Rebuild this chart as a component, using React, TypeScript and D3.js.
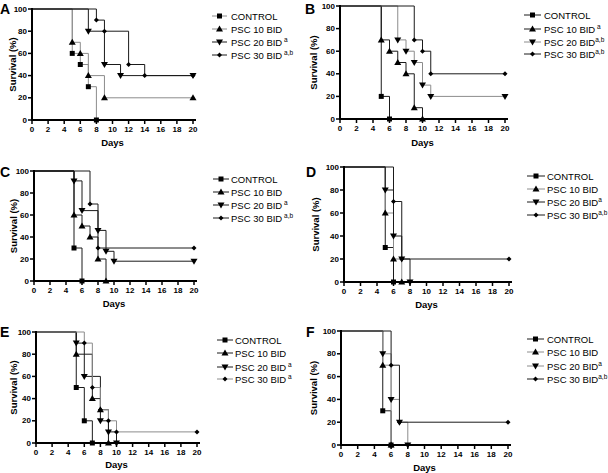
import React from "react";
import * as d3 from "d3";

type Pt = [number, number];

// Survival steps: [day, survival %] after each drop
const A_CONTROL: Pt[] = [[5, 60], [6, 50], [7, 30], [8, 0]];
const A_PSC10: Pt[] = [[5, 70], [6, 60], [7, 40], [9, 20]];
const A_PSC20: Pt[] = [[7, 80], [9, 50], [11, 40]];
const A_PSC30: Pt[] = [[8, 90], [9, 80], [12, 50], [14, 40]];

const B_CONTROL: Pt[] = [[5, 20], [6, 0]];
const B_PSC10: Pt[] = [[5, 70], [6, 60], [7, 50], [8, 40], [9, 10], [10, 0]];
const B_PSC20: Pt[] = [[7, 70], [8, 60], [9, 50], [10, 30], [11, 20]];
const B_PSC30: Pt[] = [[9, 70], [10, 60], [11, 40]];

const C_CONTROL: Pt[] = [[5, 30], [6, 0]];
const C_PSC10: Pt[] = [[5, 60], [6, 50], [7, 40], [8, 20], [9, 0]];
const C_PSC20: Pt[] = [[5, 91], [6, 64], [8, 46], [9, 27], [10, 18]];
const C_PSC30: Pt[] = [[7, 70], [8, 30]];

const D_CONTROL: Pt[] = [[5, 30], [6, 0]];
const D_PSC10: Pt[] = [[5, 60], [6, 20], [7, 0]];
const D_PSC20: Pt[] = [[5, 80], [6, 40], [7, 20], [8, 0]];
const D_PSC30: Pt[] = [[6, 70], [7, 20]];

const E_CONTROL: Pt[] = [[5, 50], [6, 20], [7, 0]];
const E_PSC10: Pt[] = [[5, 80], [7, 40], [8, 30], [9, 0]];
const E_PSC20: Pt[] = [[5, 90], [6, 60], [8, 20], [9, 10], [10, 0]];
const E_PSC30: Pt[] = [[6, 90], [7, 50], [8, 30], [9, 20], [10, 10]];

const F_CONTROL: Pt[] = [[5, 30], [6, 0]];
const F_PSC10: Pt[] = [[5, 70], [6, 0]];
const F_PSC20: Pt[] = [[5, 80], [6, 40], [7, 20], [8, 0]];
const F_PSC30: Pt[] = [[6, 70], [7, 20]];

const X_TICKS = [0, 2, 4, 6, 8, 10, 12, 14, 16, 18, 20];
const Y_TICKS = [0, 20, 40, 60, 80, 100];
const END_DAY = 20;

const SERIES_NAMES = ["CONTROL", "PSC 10 BID", "PSC 20 BID", "PSC 30 BID"];
const SHAPES = ["square", "up", "down", "diamond"];

const A_SUP = ["", "", " a", " a,b"];
const B_SUP = ["", " a", "a,b", "a,b"];
const C_SUP = ["", "", " a", " a,b"];
const D_SUP = ["", "", "a", "a,b"];
const E_SUP = ["", "", " a", " a"];
const F_SUP = ["", "", "a", "a,b"];

const DARK = "#1a1a1a";
const GREY = "#8c8c8c";

interface PanelCfg {
  letter: string;
  data: Pt[][];
  sup: string[];
  colors: string[];
  x0: number; x1: number; yTop: number; yBot: number;
  labelX: number; labelY: number;
  survX: number; daysY: number;
  legL0: number; legL1: number; legT: number; legRows: number[];
}

const PANELS: PanelCfg[] = [
  { letter: "A", data: [A_CONTROL, A_PSC10, A_PSC20, A_PSC30], sup: A_SUP, colors: [GREY, GREY, DARK, DARK],
    x0: 32, x1: 193, yTop: 9, yBot: 120, labelX: 0, labelY: 14, survX: 12, daysY: 146,
    legL0: 212, legL1: 227, legT: 231, legRows: [16, 29, 42, 55] },
  { letter: "B", data: [B_CONTROL, B_PSC10, B_PSC20, B_PSC30], sup: B_SUP, colors: [DARK, DARK, GREY, DARK],
    x0: 340, x1: 505, yTop: 6, yBot: 119, labelX: 305, labelY: 14, survX: 313, daysY: 146,
    legL0: 524, legL1: 541, legT: 544, legRows: [15, 29, 42, 54] },
  { letter: "C", data: [C_CONTROL, C_PSC10, C_PSC20, C_PSC30], sup: C_SUP, colors: [DARK, DARK, DARK, DARK],
    x0: 34, x1: 194, yTop: 171, yBot: 281, labelX: 0, labelY: 177, survX: 13, daysY: 307,
    legL0: 213, legL1: 229, legT: 231, legRows: [179, 192, 205, 218] },
  { letter: "D", data: [D_CONTROL, D_PSC10, D_PSC20, D_PSC30], sup: D_SUP, colors: [DARK, GREY, DARK, DARK],
    x0: 344, x1: 509, yTop: 167, yBot: 282, labelX: 306, labelY: 177, survX: 315, daysY: 308,
    legL0: 527, legL1: 545, legT: 547, legRows: [176, 189, 202, 215] },
  { letter: "E", data: [E_CONTROL, E_PSC10, E_PSC20, E_PSC30], sup: E_SUP, colors: [DARK, DARK, DARK, GREY],
    x0: 36, x1: 197, yTop: 332, yBot: 443, labelX: 0, labelY: 337, survX: 13, daysY: 468,
    legL0: 217, legL1: 233, legT: 235, legRows: [340, 353, 367, 379] },
  { letter: "F", data: [F_CONTROL, F_PSC10, F_PSC20, F_PSC30], sup: F_SUP, colors: [DARK, GREY, GREY, DARK],
    x0: 341, x1: 508, yTop: 331, yBot: 445, labelX: 306, labelY: 337, survX: 313, daysY: 471,
    legL0: 527, legL1: 544, legT: 547, legRows: [339, 352, 366, 379] },
];

function markerPath(shape: string, cx: number, cy: number): string {
  if (shape === "square") return `M${cx - 2.5},${cy - 2.5}h5v5h-5Z`;
  if (shape === "up") return `M${cx},${cy - 3.5}L${cx + 3.5},${cy + 2.5}L${cx - 3.5},${cy + 2.5}Z`;
  if (shape === "down") return `M${cx},${cy + 3.5}L${cx + 3.5},${cy - 2.5}L${cx - 3.5},${cy - 2.5}Z`;
  return `M${cx},${cy - 2.5}L${cx + 2.5},${cy}L${cx},${cy + 2.5}L${cx - 2.5},${cy}Z`;
}

function Panel({ p }: { p: PanelCfg }) {
  const x = d3.scaleLinear().domain([0, 20]).range([p.x0, p.x1]);
  const y = d3.scaleLinear().domain([0, 100]).range([p.yBot, p.yTop]);
  const font = "Arial, 'Liberation Sans', sans-serif";

  const curves = p.data.map((steps, i) => {
    const pts: Pt[] = [[0, 100]];
    let prev = 100;
    steps.forEach(([t, s]) => {
      pts.push([t, prev]);
      pts.push([t, s]);
      prev = s;
    });
    if (prev > 0) pts.push([END_DAY, prev]);
    const line = d3.line<Pt>().x((d) => x(d[0])).y((d) => y(d[1]));
    const markers: Pt[] = steps.map((d) => d);
    if (prev > 0) markers.push([END_DAY, prev]);
    return { path: line(pts) || "", markers, color: p.colors[i], shape: SHAPES[i] };
  });

  const midY = (p.yTop + p.yBot) / 2;
  const midX = (p.x0 + p.x1) / 2;

  return (
    <g>
      <text x={p.labelX} y={p.labelY} fontFamily={font} fontWeight="bold" fontSize={14}>{p.letter}</text>
      <text transform={`translate(${p.survX},${midY}) rotate(-90)`} textAnchor="middle" dominantBaseline="central"
        fontFamily={font} fontWeight="bold" fontSize={9.5}>Survival (%)</text>
      <text x={midX} y={p.daysY} textAnchor="middle" fontFamily={font} fontWeight="bold" fontSize={9.5}>Days</text>
      {curves.map((c, i) => (
        <path key={`l${i}`} d={c.path} fill="none" stroke={c.color} strokeWidth={1} />
      ))}
      {curves.map((c, i) => (
        <g key={`m${i}`}>
          {c.markers.map((m, j) => (
            <path key={j} d={markerPath(c.shape, x(m[0]), y(m[1]))} fill="#000" />
          ))}
        </g>
      ))}
      {/* axes */}
      <line x1={p.x0} x2={p.x0} y1={p.yTop - 1} y2={p.yBot + 1} stroke="#000" strokeWidth={2} />
      <line x1={p.x0 - 1} x2={p.x1 + 3} y1={p.yBot} y2={p.yBot} stroke="#000" strokeWidth={2} />
      {Y_TICKS.map((t) => (
        <g key={`y${t}`}>
          <line x1={p.x0 - 4} x2={p.x0} y1={y(t)} y2={y(t)} stroke="#000" strokeWidth={1.5} />
          <text x={p.x0 - 5} y={y(t)} textAnchor="end" dominantBaseline="central" fontFamily={font}
            fontWeight="bold" fontSize={8}>{t}</text>
        </g>
      ))}
      {X_TICKS.map((t) => (
        <g key={`x${t}`}>
          <line x1={x(t)} x2={x(t)} y1={p.yBot} y2={p.yBot + 4} stroke="#000" strokeWidth={1.5} />
          <text x={x(t)} y={p.yBot + 12} textAnchor="middle" fontFamily={font} fontWeight="bold" fontSize={8}>{t}</text>
        </g>
      ))}
      {/* legend */}
      {SERIES_NAMES.map((name, i) => {
        const ry = p.legRows[i];
        const sup = p.sup[i];
        return (
          <g key={`lg${i}`}>
            <line x1={p.legL0} x2={p.legL1} y1={ry} y2={ry} stroke={p.colors[i]} strokeWidth={1} />
            <path d={markerPath(SHAPES[i], (p.legL0 + p.legL1) / 2, ry)} fill="#000" />
            <text x={p.legT} y={ry + 3.5} fontFamily={font} fontSize={9.5}>
              {name}
              {sup ? <tspan dy={-4} fontSize={6.5} xmlSpace="preserve">{sup}</tspan> : null}
            </text>
          </g>
        );
      })}
    </g>
  );
}

export default function App() {
  return (
    <svg width={608} height={473} style={{ position: "absolute", left: 0, top: 0, background: "#fff" }}>
      <rect width={608} height={473} fill="#fff" />
      {PANELS.map((p) => (
        <Panel key={p.letter} p={p} />
      ))}
    </svg>
  );
}
